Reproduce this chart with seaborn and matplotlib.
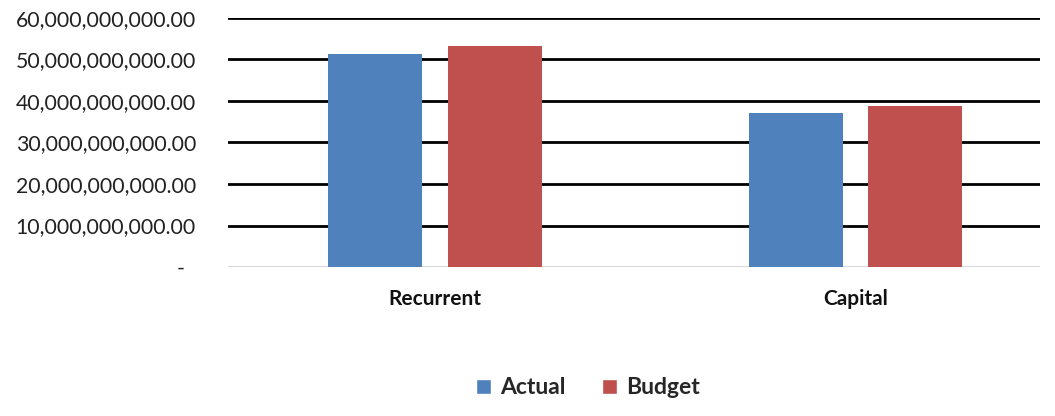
import matplotlib
matplotlib.use("Agg")
import matplotlib.pyplot as plt
import seaborn as sns
import pandas as pd
from matplotlib.ticker import FuncFormatter
from matplotlib.patches import Patch

categories = ["Recurrent", "Capital"]
series = ["Actual", "Budget"]
actual = [51.25e9, 37.2e9]
budget = [53.25e9, 38.9e9]
colors = ["#4F81BD", "#C0504D"]

df = pd.DataFrame({
    "Category": categories * 2,
    "Series": [series[0]] * 2 + [series[1]] * 2,
    "Value": actual + budget,
})

sns.set_theme(style="white")
plt.rcParams["font.family"] = ["Lato", "DejaVu Sans"]

fig = plt.figure(figsize=(10.55, 4.16), dpi=100)
ax = fig.add_axes([0.216, 0.358, 0.77, 0.599])

sns.barplot(data=df, x="Category", y="Value", hue="Series", order=categories,
            hue_order=series, palette=colors, width=0.568, gap=0.211,
            saturation=1, linewidth=0, ax=ax, legend=False, zorder=3)

ax.set_ylim(0, 60e9)
ax.set_xlim(-0.493, 1.440)
ax.set_yticks([i * 10e9 for i in range(7)])
ax.yaxis.set_major_formatter(FuncFormatter(lambda v, p: "-  " if v == 0 else f"{v:,.2f}"))
ax.tick_params(axis="y", length=0, pad=23, labelsize=15.3, labelcolor="#222222")
ax.tick_params(axis="x", length=0, pad=16, labelsize=15, labelcolor="#111111")
for lab in ax.get_xticklabels():
    lab.set_fontweight("bold")
ax.set_xlabel("")
ax.set_ylabel("")
for s in ax.spines.values():
    s.set_visible(False)
for y in range(1, 7):
    ax.axhline(y * 10e9, color="black", lw=2, zorder=1)
ax.axhline(0, color="#D9D9D9", lw=1.5, zorder=1)

handles = [Patch(facecolor=c, label=s) for c, s in zip(colors, series)]
fig.legend(handles=handles, loc="center", bbox_to_anchor=(588 / 1055, 1 - 388 / 416),
           ncol=2, frameon=False, prop={"weight": "bold", "size": 16.5},
           handlelength=0.65, handleheight=0.65, handletextpad=0.4, columnspacing=1.6)

fig.savefig("out.png", dpi=100)
